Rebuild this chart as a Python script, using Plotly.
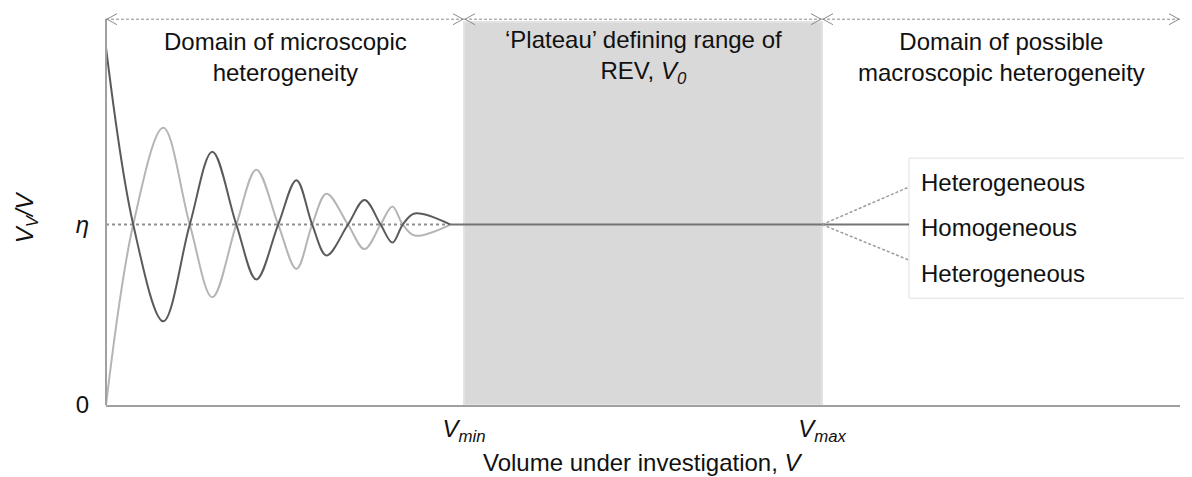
import plotly.graph_objects as go

# ---------------- data ----------------
ETA = 1.0
region_edges = [0.0, 1.0, 2.0, 3.0]          # 0, Vmin, Vmax, end of axis
region_titles = [
    "Domain of microscopic<br>heterogeneity",
    "‘Plateau’ defining range of<br>REV, <i>V<sub>0</sub></i>",
    "Domain of possible<br>macroscopic heterogeneity",
]
# oscillation key points (crossings and extrema)
osc_x = [0.0, 0.076, 0.160, 0.234, 0.297, 0.364, 0.420, 0.481, 0.532,
         0.576, 0.616, 0.676, 0.722, 0.767, 0.800, 0.829, 0.862, 0.962]
dark_y = [1.98, 1.0, 0.464, 1.0, 1.403, 1.0, 0.696, 1.0, 1.246,
          1.0, 0.829, 1.0, 1.136, 1.0, 0.900, 1.0, 1.061, 1.0]
light_y = [0.0, 1.0, 1.536, 1.0, 0.597, 1.0, 1.304, 1.0, 0.754,
           1.0, 1.171, 1.0, 0.864, 1.0, 1.100, 1.0, 0.939, 1.0]
flat_x = [0.962, 2.243]
branch_x = [2.0, 2.243]
branch_hi = [1.0, 1.208]
branch_lo = [1.0, 0.803]
legend_labels = ["Heterogeneous", "Homogeneous", "Heterogeneous"]
legend_label_y = [1.235, 0.985, 0.73]
legend_box_x = [2.243, 3.2]
legend_box_y = [0.592, 1.368]
x_tick_vals = [1.0, 2.0]
x_tick_text = ["<i>V<sub>min</sub></i>", "<i>V<sub>max</sub></i>"]
y_tick_vals = [0.0, 1.0]
y_tick_text = ["0", "<i>η</i>"]
plateau_top = 2.122
arrow_y = 2.138
axis_top = 2.14
X_RANGE = [0.0, 3.0]

FONT = "Liberation Sans, Arial, sans-serif"
FS = 24

fig = go.Figure()

# eta dashed reference
fig.add_trace(go.Scatter(x=[osc_x[0], osc_x[-1]], y=[ETA, ETA], mode="lines",
                         line=dict(color="#8f8f8f", width=2, dash="dot"),
                         hoverinfo="skip", showlegend=False))
fig.add_trace(go.Scatter(x=osc_x, y=light_y, mode="lines",
                         line=dict(color="#b5b5b5", width=2, shape="spline", smoothing=1.0),
                         showlegend=False))
fig.add_trace(go.Scatter(x=osc_x, y=dark_y, mode="lines",
                         line=dict(color="#5a5a5a", width=2, shape="spline", smoothing=1.0),
                         showlegend=False))
fig.add_trace(go.Scatter(x=flat_x, y=[ETA, ETA], mode="lines",
                         line=dict(color="#747474", width=2), showlegend=False))
fig.add_trace(go.Scatter(x=branch_x, y=branch_hi, mode="lines",
                         line=dict(color="#9a9a9a", width=1.5, dash="3px,2px"), showlegend=False))
fig.add_trace(go.Scatter(x=branch_x, y=branch_lo, mode="lines",
                         line=dict(color="#9a9a9a", width=1.5, dash="3px,2px"), showlegend=False))

shapes = []
# plateau box
shapes.append(dict(type="rect", xref="x", yref="y", x0=region_edges[1], x1=region_edges[2],
                   y0=0, y1=plateau_top, fillcolor="#d9d9d9",
                   line=dict(color="#e3e3e3", width=2), layer="below"))
# legend box (runs off the right edge of the canvas)
span = X_RANGE[1] - X_RANGE[0]
shapes.append(dict(type="rect", xref="paper", yref="y",
                   x0=(legend_box_x[0] - X_RANGE[0]) / span, x1=(legend_box_x[1] - X_RANGE[0]) / span,
                   y0=legend_box_y[0], y1=legend_box_y[1], fillcolor="white",
                   line=dict(color="#e0e0e0", width=1), layer="below"))
# y axis line
shapes.append(dict(type="line", xref="paper", yref="y", x0=0, x1=0, y0=0, y1=axis_top,
                   line=dict(color="#a0a0a0", width=2)))
# top double arrows
for a, b in zip(region_edges[:-1], region_edges[1:]):
    shapes.append(dict(type="line", xref="x", yref="y", x0=a, x1=b, y0=arrow_y, y1=arrow_y,
                       line=dict(color="#8a8a8a", width=1, dash="3px,2px")))
    shapes.append(dict(type="path", xref="x", yref="y", xsizemode="pixel", ysizemode="pixel",
                       xanchor=a, yanchor=arrow_y, path="M 11 5.5 L 1 0 L 11 -5.5",
                       line=dict(color="#8a8a8a", width=1)))
    shapes.append(dict(type="path", xref="x", yref="y", xsizemode="pixel", ysizemode="pixel",
                       xanchor=b, yanchor=arrow_y, path="M -11 5.5 L -1 0 L -11 -5.5",
                       line=dict(color="#8a8a8a", width=1)))

annotations = []
for a, b, t in zip(region_edges[:-1], region_edges[1:], region_titles):
    annotations.append(dict(x=(a + b) / 2, y=1.93, xref="x", yref="y", text=t,
                            showarrow=False, font=dict(size=FS, color="#111", family=FONT),
                            xanchor="center", yanchor="middle", align="center"))
for lab, ly in zip(legend_labels, legend_label_y):
    annotations.append(dict(x=legend_box_x[0], y=ly, xref="x", yref="y", text=lab,
                            showarrow=False, xanchor="left", yanchor="middle", xshift=10,
                            font=dict(size=FS, color="#111", family=FONT)))
# y axis title
annotations.append(dict(x=0, y=1.04, xref="paper", yref="y", xshift=-80, text="<i>V<sub>V</sub>/V</i>",
                        textangle=-90, showarrow=False, xanchor="center", yanchor="middle",
                        font=dict(size=FS, color="#111", family=FONT)))
# x axis title
annotations.append(dict(x=0.5, y=0, xref="paper", yref="paper", yshift=-57,
                        text="Volume under investigation, <i>V</i>", showarrow=False,
                        xanchor="center", yanchor="middle",
                        font=dict(size=FS, color="#111", family=FONT)))

# the page body has an 8px margin, so the figure sits 8px right and down
fig.update_layout(
    width=1184, height=469,
    margin=dict(l=98, r=12, t=0, b=72),
    paper_bgcolor="white", plot_bgcolor="white",
    showlegend=False,
    shapes=shapes, annotations=annotations,
    font=dict(family=FONT, size=FS, color="#111"),
    xaxis=dict(range=X_RANGE, showgrid=False, zeroline=False, showline=True,
               linecolor="#a0a0a0", linewidth=2, tickvals=x_tick_vals, ticktext=x_tick_text,
               ticks="", ticklabelstandoff=1, tickfont=dict(size=FS, family=FONT, color="#111")),
    yaxis=dict(range=[0, 2.2], showgrid=False, zeroline=False, showline=False,
               tickvals=y_tick_vals, ticktext=y_tick_text, ticks="", ticklabelstandoff=16,
               tickfont=dict(size=FS, family=FONT, color="#111")),
)

fig.write_html("out.html")
